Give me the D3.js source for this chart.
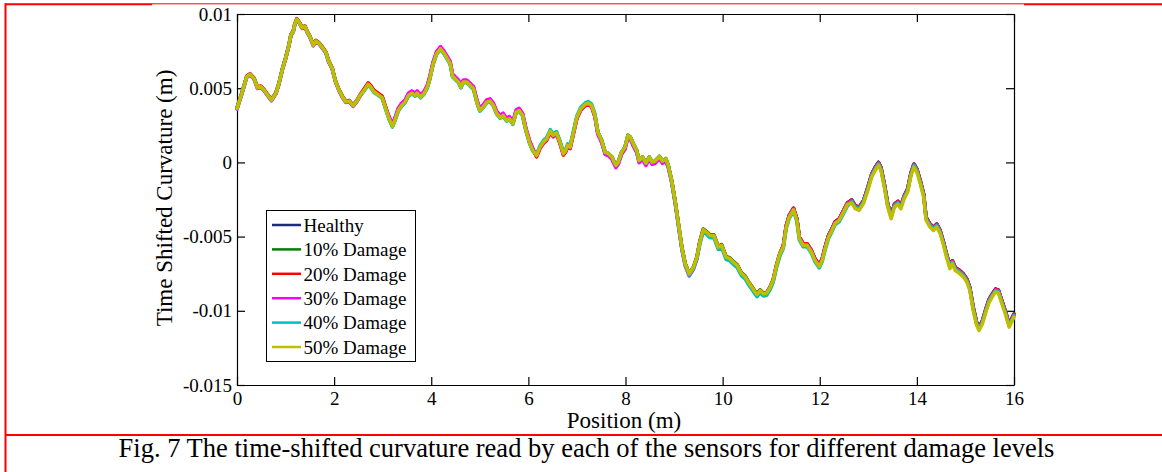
<!DOCTYPE html>
<html>
<head>
<meta charset="utf-8">
<script src="https://cdn.jsdelivr.net/npm/d3@7"></script>
<style>
  html, body { margin: 0; padding: 0; background: #fff; }
  svg { display: block; }
</style>
</head>
<body>
<svg id="chart" width="1162" height="472"></svg>
<script>
// Sensor positions along the bridge (m)
const position = [
  0.00, 0.11, 0.20, 0.27, 0.35, 0.42, 0.49, 0.56, 0.62, 0.71,
  0.80, 0.86, 0.93, 1.00, 1.07, 1.11, 1.16, 1.19, 1.23, 1.28,
  1.34, 1.40, 1.45, 1.50, 1.57, 1.62, 1.69, 1.76, 1.83, 1.89,
  1.96, 2.03, 2.10, 2.17, 2.24, 2.31, 2.39, 2.46, 2.53,
  2.62, 2.70, 2.75, 2.82, 2.90, 2.99, 3.06,
  3.13, 3.20, 3.25, 3.32, 3.39, 3.46, 3.53, 3.60, 3.67, 3.71,
  3.78, 3.85, 3.92, 3.97, 4.04, 4.11, 4.19, 4.26, 4.33, 4.39,
  4.44, 4.49, 4.56, 4.61, 4.66, 4.73, 4.80, 4.87, 4.94, 5.00,
  5.07, 5.14, 5.21, 5.28, 5.35, 5.42, 5.48, 5.55, 5.61, 5.68,
  5.75, 5.81, 5.88, 5.95, 6.02, 6.09,
  6.17, 6.24, 6.31, 6.38, 6.45, 6.51, 6.58, 6.65, 6.72, 6.77,
  6.81, 6.86, 6.93, 7.00, 7.08, 7.17, 7.23, 7.30, 7.37,
  7.43, 7.51, 7.58, 7.65, 7.72, 7.80, 7.85, 7.92, 7.99, 8.05,
  8.10, 8.16, 8.23, 8.28, 8.35, 8.42, 8.49, 8.55, 8.61, 8.70,
  8.76, 8.83, 8.88,
  8.95, 9.02, 9.09, 9.16, 9.23, 9.31, 9.40, 9.47,
  9.53, 9.60, 9.67, 9.74, 9.82, 9.91, 9.98, 10.07, 10.15, 10.22,
  10.30, 10.39, 10.46, 10.53, 10.60, 10.67, 10.71, 10.77, 10.84, 10.91,
  10.98, 11.04, 11.11, 11.18,
  11.25, 11.31, 11.37, 11.46, 11.53, 11.58, 11.66, 11.74, 11.83, 11.90,
  11.99, 12.05, 12.11, 12.18, 12.25, 12.32, 12.40, 12.49, 12.57,
  12.66, 12.73, 12.81, 12.90, 12.99, 13.07, 13.15, 13.21, 13.26, 13.33,
  13.40, 13.47, 13.54, 13.61, 13.67, 13.74, 13.81, 13.88, 13.94, 14.00,
  14.07, 14.14, 14.19, 14.27, 14.34, 14.41, 14.48, 14.55, 14.61, 14.68,
  14.73, 14.79, 14.87, 14.96, 15.03, 15.09, 15.16, 15.23, 15.28, 15.35,
  15.42, 15.49, 15.55, 15.62, 15.68, 15.75, 15.82, 15.90, 15.95, 16.00
];

// Time-shifted curvature (m) for each damage level
const healthy = [
  0.00364, 0.00476, 0.00577, 0.00593, 0.00566, 0.00503, 0.00510, 0.00487, 0.00458, 0.00420,
  0.00465, 0.00526, 0.00622, 0.00700, 0.00790, 0.00858, 0.00885, 0.00930, 0.00964, 0.00943,
  0.00908, 0.00914, 0.00876, 0.00847, 0.00790, 0.00818, 0.00802, 0.00773, 0.00741, 0.00679,
  0.00633, 0.00544, 0.00487, 0.00443, 0.00409, 0.00413, 0.00382, 0.00409, 0.00449,
  0.00492, 0.00531, 0.00515, 0.00481, 0.00463, 0.00441, 0.00369,
  0.00296, 0.00243, 0.00283, 0.00350, 0.00384, 0.00406, 0.00451, 0.00467, 0.00451, 0.00467,
  0.00440, 0.00463, 0.00507, 0.00564, 0.00665, 0.00732, 0.00766, 0.00737, 0.00699, 0.00665,
  0.00580, 0.00564, 0.00541, 0.00507, 0.00541, 0.00541, 0.00519, 0.00497, 0.00406, 0.00350,
  0.00373, 0.00406, 0.00413, 0.00384, 0.00328, 0.00301, 0.00317, 0.00283, 0.00294, 0.00261,
  0.00339, 0.00350, 0.00317, 0.00216, 0.00137, 0.00081,
  0.00047, 0.00103, 0.00137, 0.00160, 0.00211, 0.00182, 0.00198, 0.00137, 0.00059, 0.00081,
  0.00115, 0.00103, 0.00204, 0.00305, 0.00362, 0.00391, 0.00400, 0.00384, 0.00317,
  0.00204, 0.00148, 0.00069, 0.00059, 0.00036, -0.00020, 0.00002, 0.00069, 0.00103, 0.00182,
  0.00170, 0.00126, 0.00081, 0.00013, 0.00036, -0.00005, 0.00036, 0.00002, 0.00009, 0.00040,
  0.00009, 0.00025, -0.00020,
  -0.00121, -0.00256, -0.00413, -0.00571, -0.00683, -0.00750, -0.00705, -0.00638,
  -0.00537, -0.00454, -0.00470, -0.00492, -0.00492, -0.00571, -0.00559, -0.00638, -0.00649, -0.00672,
  -0.00694, -0.00750, -0.00768, -0.00807, -0.00840, -0.00874, -0.00890, -0.00863, -0.00885, -0.00880,
  -0.00840, -0.00795, -0.00694, -0.00615,
  -0.00561, -0.00426, -0.00359, -0.00309, -0.00381, -0.00504, -0.00549, -0.00549, -0.00594, -0.00650,
  -0.00691, -0.00650, -0.00572, -0.00493, -0.00448, -0.00399, -0.00381, -0.00325, -0.00273,
  -0.00254, -0.00292, -0.00303, -0.00258, -0.00169, -0.00079, -0.00029, 0.00000, -0.00034, -0.00146,
  -0.00281, -0.00360, -0.00281, -0.00263, -0.00292, -0.00225, -0.00180, -0.00068, -0.00012, -0.00045,
  -0.00124, -0.00214, -0.00371, -0.00416, -0.00438, -0.00416, -0.00460, -0.00539, -0.00618, -0.00696,
  -0.00663, -0.00708, -0.00726, -0.00753, -0.00787, -0.00843, -0.00977, -0.01078, -0.01112, -0.01067,
  -0.00989, -0.00921, -0.00888, -0.00854, -0.00861, -0.00932, -0.01000, -0.01090, -0.01056, -0.01022
];

const damage10 = [
  0.00364, 0.00476, 0.00577, 0.00593, 0.00566, 0.00503, 0.00510, 0.00487, 0.00458, 0.00420,
  0.00465, 0.00526, 0.00622, 0.00700, 0.00790, 0.00858, 0.00885, 0.00930, 0.00964, 0.00943,
  0.00908, 0.00914, 0.00876, 0.00847, 0.00790, 0.00818, 0.00802, 0.00773, 0.00741, 0.00679,
  0.00633, 0.00544, 0.00487, 0.00443, 0.00409, 0.00413, 0.00382, 0.00409, 0.00449,
  0.00492, 0.00531, 0.00515, 0.00481, 0.00463, 0.00441, 0.00369,
  0.00301, 0.00248, 0.00288, 0.00355, 0.00389, 0.00411, 0.00456, 0.00472, 0.00456, 0.00472,
  0.00445, 0.00468, 0.00512, 0.00569, 0.00670, 0.00737, 0.00771, 0.00742, 0.00704, 0.00670,
  0.00585, 0.00569, 0.00546, 0.00512, 0.00546, 0.00546, 0.00524, 0.00502, 0.00411, 0.00355,
  0.00378, 0.00411, 0.00418, 0.00389, 0.00333, 0.00306, 0.00322, 0.00288, 0.00299, 0.00266,
  0.00344, 0.00355, 0.00322, 0.00221, 0.00142, 0.00086,
  0.00047, 0.00103, 0.00137, 0.00160, 0.00211, 0.00182, 0.00198, 0.00137, 0.00059, 0.00081,
  0.00115, 0.00103, 0.00204, 0.00305, 0.00362, 0.00391, 0.00400, 0.00384, 0.00317,
  0.00204, 0.00148, 0.00069, 0.00059, 0.00036, -0.00020, 0.00002, 0.00069, 0.00103, 0.00182,
  0.00170, 0.00126, 0.00081, 0.00013, 0.00036, -0.00005, 0.00036, 0.00002, 0.00009, 0.00040,
  0.00009, 0.00025, -0.00020,
  -0.00121, -0.00256, -0.00413, -0.00571, -0.00683, -0.00750, -0.00705, -0.00638,
  -0.00532, -0.00449, -0.00465, -0.00487, -0.00487, -0.00566, -0.00554, -0.00633, -0.00644, -0.00667,
  -0.00689, -0.00745, -0.00763, -0.00802, -0.00835, -0.00869, -0.00885, -0.00858, -0.00880, -0.00875,
  -0.00835, -0.00790, -0.00689, -0.00610,
  -0.00561, -0.00426, -0.00359, -0.00309, -0.00381, -0.00504, -0.00549, -0.00549, -0.00594, -0.00650,
  -0.00691, -0.00650, -0.00572, -0.00493, -0.00448, -0.00399, -0.00381, -0.00325, -0.00273,
  -0.00254, -0.00292, -0.00303, -0.00258, -0.00169, -0.00079, -0.00029, 0.00000, -0.00034, -0.00146,
  -0.00281, -0.00360, -0.00281, -0.00263, -0.00292, -0.00225, -0.00180, -0.00068, -0.00012, -0.00045,
  -0.00124, -0.00214, -0.00371, -0.00416, -0.00438, -0.00416, -0.00460, -0.00539, -0.00618, -0.00696,
  -0.00663, -0.00708, -0.00726, -0.00753, -0.00787, -0.00843, -0.00977, -0.01078, -0.01112, -0.01067,
  -0.00989, -0.00921, -0.00888, -0.00854, -0.00861, -0.00932, -0.01000, -0.01090, -0.01056, -0.01022
];

const damage20 = [
  0.00369, 0.00481, 0.00582, 0.00598, 0.00571, 0.00508, 0.00515, 0.00492, 0.00463, 0.00425,
  0.00470, 0.00531, 0.00627, 0.00705, 0.00795, 0.00863, 0.00890, 0.00935, 0.00969, 0.00948,
  0.00913, 0.00919, 0.00881, 0.00852, 0.00795, 0.00823, 0.00807, 0.00778, 0.00746, 0.00684,
  0.00638, 0.00549, 0.00492, 0.00448, 0.00414, 0.00418, 0.00387, 0.00414, 0.00454,
  0.00497, 0.00536, 0.00520, 0.00486, 0.00468, 0.00446, 0.00374,
  0.00306, 0.00253, 0.00293, 0.00360, 0.00394, 0.00416, 0.00461, 0.00477, 0.00461, 0.00477,
  0.00450, 0.00473, 0.00517, 0.00574, 0.00675, 0.00742, 0.00776, 0.00747, 0.00709, 0.00675,
  0.00590, 0.00574, 0.00551, 0.00517, 0.00551, 0.00551, 0.00529, 0.00507, 0.00416, 0.00360,
  0.00383, 0.00416, 0.00423, 0.00394, 0.00338, 0.00311, 0.00327, 0.00293, 0.00304, 0.00271,
  0.00349, 0.00360, 0.00327, 0.00226, 0.00147, 0.00091,
  0.00037, 0.00093, 0.00127, 0.00150, 0.00201, 0.00172, 0.00188, 0.00127, 0.00049, 0.00071,
  0.00105, 0.00093, 0.00194, 0.00295, 0.00352, 0.00381, 0.00390, 0.00374, 0.00307,
  0.00194, 0.00138, 0.00059, 0.00049, 0.00026, -0.00030, -0.00008, 0.00059, 0.00093, 0.00172,
  0.00160, 0.00116, 0.00071, 0.00003, 0.00026, -0.00015, 0.00026, -0.00008, -0.00001, 0.00030,
  -0.00001, 0.00015, -0.00030,
  -0.00126, -0.00261, -0.00418, -0.00576, -0.00688, -0.00755, -0.00710, -0.00643,
  -0.00537, -0.00454, -0.00470, -0.00492, -0.00492, -0.00571, -0.00559, -0.00638, -0.00649, -0.00672,
  -0.00694, -0.00750, -0.00768, -0.00807, -0.00840, -0.00874, -0.00890, -0.00863, -0.00885, -0.00880,
  -0.00840, -0.00795, -0.00694, -0.00615,
  -0.00561, -0.00426, -0.00359, -0.00309, -0.00381, -0.00504, -0.00549, -0.00549, -0.00594, -0.00650,
  -0.00691, -0.00650, -0.00572, -0.00493, -0.00448, -0.00399, -0.00381, -0.00325, -0.00273,
  -0.00254, -0.00292, -0.00303, -0.00258, -0.00169, -0.00079, -0.00029, 0.00000, -0.00034, -0.00146,
  -0.00281, -0.00360, -0.00281, -0.00263, -0.00292, -0.00225, -0.00180, -0.00068, -0.00012, -0.00045,
  -0.00124, -0.00214, -0.00371, -0.00416, -0.00438, -0.00416, -0.00460, -0.00539, -0.00618, -0.00696,
  -0.00663, -0.00708, -0.00726, -0.00753, -0.00787, -0.00843, -0.00977, -0.01078, -0.01112, -0.01067,
  -0.00989, -0.00921, -0.00888, -0.00854, -0.00861, -0.00932, -0.01000, -0.01090, -0.01056, -0.01022
];

const damage30 = [
  0.00359, 0.00471, 0.00572, 0.00588, 0.00561, 0.00498, 0.00505, 0.00482, 0.00453, 0.00415,
  0.00460, 0.00521, 0.00617, 0.00695, 0.00785, 0.00853, 0.00880, 0.00925, 0.00959, 0.00938,
  0.00903, 0.00909, 0.00871, 0.00842, 0.00785, 0.00813, 0.00797, 0.00768, 0.00736, 0.00674,
  0.00628, 0.00539, 0.00482, 0.00438, 0.00404, 0.00408, 0.00377, 0.00404, 0.00444,
  0.00487, 0.00526, 0.00510, 0.00476, 0.00458, 0.00436, 0.00364,
  0.00311, 0.00258, 0.00298, 0.00365, 0.00399, 0.00421, 0.00466, 0.00482, 0.00466, 0.00482,
  0.00455, 0.00478, 0.00522, 0.00579, 0.00680, 0.00747, 0.00781, 0.00752, 0.00714, 0.00680,
  0.00595, 0.00579, 0.00556, 0.00522, 0.00556, 0.00556, 0.00534, 0.00512, 0.00421, 0.00365,
  0.00388, 0.00421, 0.00428, 0.00399, 0.00343, 0.00316, 0.00332, 0.00298, 0.00309, 0.00276,
  0.00354, 0.00365, 0.00332, 0.00231, 0.00152, 0.00096,
  0.00042, 0.00098, 0.00132, 0.00155, 0.00206, 0.00177, 0.00193, 0.00132, 0.00054, 0.00076,
  0.00110, 0.00098, 0.00199, 0.00300, 0.00357, 0.00386, 0.00395, 0.00379, 0.00312,
  0.00189, 0.00133, 0.00054, 0.00044, 0.00021, -0.00035, -0.00013, 0.00054, 0.00088, 0.00167,
  0.00155, 0.00111, 0.00066, -0.00002, 0.00021, -0.00020, 0.00021, -0.00013, -0.00006, 0.00025,
  -0.00006, 0.00010, -0.00035,
  -0.00136, -0.00271, -0.00428, -0.00586, -0.00698, -0.00765, -0.00720, -0.00653,
  -0.00542, -0.00459, -0.00475, -0.00497, -0.00497, -0.00576, -0.00564, -0.00643, -0.00654, -0.00677,
  -0.00699, -0.00755, -0.00773, -0.00812, -0.00845, -0.00879, -0.00895, -0.00868, -0.00890, -0.00885,
  -0.00845, -0.00800, -0.00699, -0.00620,
  -0.00566, -0.00431, -0.00364, -0.00314, -0.00386, -0.00509, -0.00554, -0.00554, -0.00599, -0.00655,
  -0.00696, -0.00655, -0.00577, -0.00498, -0.00453, -0.00404, -0.00386, -0.00330, -0.00278,
  -0.00259, -0.00297, -0.00308, -0.00263, -0.00174, -0.00084, -0.00034, -0.00005, -0.00039, -0.00151,
  -0.00286, -0.00365, -0.00286, -0.00268, -0.00297, -0.00230, -0.00185, -0.00073, -0.00017, -0.00050,
  -0.00129, -0.00219, -0.00376, -0.00421, -0.00443, -0.00421, -0.00465, -0.00544, -0.00623, -0.00701,
  -0.00668, -0.00713, -0.00731, -0.00758, -0.00792, -0.00848, -0.00982, -0.01083, -0.01117, -0.01072,
  -0.00994, -0.00926, -0.00893, -0.00859, -0.00866, -0.00937, -0.01005, -0.01095, -0.01061, -0.01027
];

const damage40 = [
  0.00364, 0.00476, 0.00577, 0.00593, 0.00566, 0.00503, 0.00510, 0.00487, 0.00458, 0.00420,
  0.00465, 0.00526, 0.00622, 0.00700, 0.00790, 0.00858, 0.00885, 0.00930, 0.00964, 0.00943,
  0.00908, 0.00914, 0.00876, 0.00847, 0.00790, 0.00818, 0.00802, 0.00773, 0.00741, 0.00679,
  0.00633, 0.00544, 0.00487, 0.00443, 0.00409, 0.00413, 0.00382, 0.00409, 0.00449,
  0.00482, 0.00521, 0.00505, 0.00471, 0.00453, 0.00431, 0.00359,
  0.00291, 0.00238, 0.00278, 0.00345, 0.00379, 0.00401, 0.00446, 0.00462, 0.00446, 0.00462,
  0.00435, 0.00458, 0.00502, 0.00559, 0.00660, 0.00727, 0.00761, 0.00732, 0.00694, 0.00660,
  0.00575, 0.00559, 0.00536, 0.00502, 0.00536, 0.00536, 0.00514, 0.00492, 0.00401, 0.00345,
  0.00368, 0.00401, 0.00408, 0.00379, 0.00323, 0.00296, 0.00312, 0.00278, 0.00289, 0.00256,
  0.00334, 0.00345, 0.00312, 0.00211, 0.00132, 0.00076,
  0.00057, 0.00113, 0.00147, 0.00170, 0.00221, 0.00192, 0.00208, 0.00147, 0.00069, 0.00091,
  0.00125, 0.00113, 0.00214, 0.00315, 0.00372, 0.00401, 0.00410, 0.00394, 0.00327,
  0.00204, 0.00148, 0.00069, 0.00059, 0.00036, -0.00020, 0.00002, 0.00069, 0.00103, 0.00182,
  0.00170, 0.00126, 0.00081, 0.00013, 0.00036, -0.00005, 0.00036, 0.00002, 0.00009, 0.00040,
  0.00009, 0.00025, -0.00020,
  -0.00131, -0.00266, -0.00423, -0.00581, -0.00693, -0.00760, -0.00715, -0.00648,
  -0.00552, -0.00469, -0.00485, -0.00507, -0.00507, -0.00586, -0.00574, -0.00653, -0.00664, -0.00687,
  -0.00709, -0.00765, -0.00783, -0.00822, -0.00855, -0.00889, -0.00905, -0.00878, -0.00900, -0.00895,
  -0.00855, -0.00810, -0.00709, -0.00630,
  -0.00581, -0.00446, -0.00379, -0.00329, -0.00401, -0.00524, -0.00569, -0.00569, -0.00614, -0.00670,
  -0.00711, -0.00670, -0.00592, -0.00513, -0.00468, -0.00419, -0.00401, -0.00345, -0.00293,
  -0.00264, -0.00302, -0.00313, -0.00268, -0.00179, -0.00089, -0.00039, -0.00010, -0.00044, -0.00156,
  -0.00291, -0.00370, -0.00291, -0.00273, -0.00302, -0.00235, -0.00190, -0.00078, -0.00022, -0.00055,
  -0.00134, -0.00224, -0.00381, -0.00426, -0.00448, -0.00426, -0.00470, -0.00549, -0.00628, -0.00706,
  -0.00673, -0.00718, -0.00736, -0.00763, -0.00797, -0.00853, -0.00987, -0.01088, -0.01122, -0.01077,
  -0.00999, -0.00931, -0.00898, -0.00864, -0.00871, -0.00942, -0.01010, -0.01100, -0.01066, -0.01032
];

const damage50 = [
  0.00364, 0.00476, 0.00577, 0.00593, 0.00566, 0.00503, 0.00510, 0.00487, 0.00458, 0.00420,
  0.00465, 0.00526, 0.00622, 0.00700, 0.00790, 0.00858, 0.00885, 0.00930, 0.00964, 0.00943,
  0.00908, 0.00914, 0.00876, 0.00847, 0.00790, 0.00818, 0.00802, 0.00773, 0.00741, 0.00679,
  0.00633, 0.00544, 0.00487, 0.00443, 0.00409, 0.00413, 0.00382, 0.00409, 0.00449,
  0.00487, 0.00526, 0.00510, 0.00476, 0.00458, 0.00436, 0.00364,
  0.00296, 0.00243, 0.00283, 0.00350, 0.00384, 0.00406, 0.00451, 0.00467, 0.00451, 0.00467,
  0.00440, 0.00463, 0.00507, 0.00564, 0.00665, 0.00732, 0.00766, 0.00737, 0.00699, 0.00665,
  0.00580, 0.00564, 0.00541, 0.00507, 0.00541, 0.00541, 0.00519, 0.00497, 0.00406, 0.00350,
  0.00373, 0.00406, 0.00413, 0.00384, 0.00328, 0.00301, 0.00317, 0.00283, 0.00294, 0.00261,
  0.00339, 0.00350, 0.00317, 0.00216, 0.00137, 0.00081,
  0.00047, 0.00103, 0.00137, 0.00160, 0.00211, 0.00182, 0.00198, 0.00137, 0.00059, 0.00081,
  0.00115, 0.00103, 0.00204, 0.00305, 0.00362, 0.00391, 0.00400, 0.00384, 0.00317,
  0.00204, 0.00148, 0.00069, 0.00059, 0.00036, -0.00020, 0.00002, 0.00069, 0.00103, 0.00182,
  0.00170, 0.00126, 0.00081, 0.00013, 0.00036, -0.00005, 0.00036, 0.00002, 0.00009, 0.00040,
  0.00009, 0.00025, -0.00020,
  -0.00121, -0.00256, -0.00413, -0.00571, -0.00683, -0.00750, -0.00705, -0.00638,
  -0.00537, -0.00454, -0.00470, -0.00492, -0.00492, -0.00571, -0.00559, -0.00638, -0.00649, -0.00672,
  -0.00694, -0.00750, -0.00768, -0.00807, -0.00840, -0.00874, -0.00890, -0.00863, -0.00885, -0.00880,
  -0.00840, -0.00795, -0.00694, -0.00615,
  -0.00571, -0.00436, -0.00369, -0.00319, -0.00391, -0.00514, -0.00559, -0.00559, -0.00604, -0.00660,
  -0.00701, -0.00660, -0.00582, -0.00503, -0.00458, -0.00409, -0.00391, -0.00335, -0.00283,
  -0.00274, -0.00312, -0.00323, -0.00278, -0.00189, -0.00099, -0.00049, -0.00020, -0.00054, -0.00166,
  -0.00301, -0.00380, -0.00301, -0.00283, -0.00312, -0.00245, -0.00200, -0.00088, -0.00032, -0.00065,
  -0.00144, -0.00234, -0.00391, -0.00436, -0.00458, -0.00436, -0.00480, -0.00559, -0.00638, -0.00716,
  -0.00683, -0.00728, -0.00746, -0.00773, -0.00807, -0.00863, -0.00997, -0.01098, -0.01132, -0.01087,
  -0.01009, -0.00941, -0.00908, -0.00874, -0.00881, -0.00952, -0.01020, -0.01110, -0.01076, -0.01042
];

const seriesNames = ["Healthy", "10% Damage", "20% Damage", "30% Damage", "40% Damage", "50% Damage"];
const seriesValues = [healthy, damage10, damage20, damage30, damage40, damage50];
const seriesColors = ["#1c2a80", "#007f00", "#ff0000", "#ff00ff", "#00bfbf", "#bfbf00"];

const xTicks = [0, 2, 4, 6, 8, 10, 12, 14, 16];
const yTicks = [0.01, 0.005, 0, -0.005, -0.01, -0.015];
const yTickLabels = ["0.01", "0.005", "0", "-0.005", "-0.01", "-0.015"];

const xTitle = "Position (m)";
const yTitle = "Time Shifted Curvature (m)";
const captionText = "Fig. 7 The time-shifted curvature read by each of the sensors for different damage levels";

// ---- layout ----
const W = 1162, H = 472;
const plot = { left: 237, right: 1014, top: 14, bottom: 385 };
const SERIF = "'Liberation Serif', 'Times New Roman', serif";

const svg = d3.select("#chart");
svg.append("rect").attr("width", W).attr("height", H).attr("fill", "#fff");

const x = d3.scaleLinear().domain([0, 16]).range([plot.left, plot.right]);
const y = d3.scaleLinear().domain([-0.015, 0.01]).range([plot.bottom, plot.top]);

// Page frame lines around the figure
const frame = svg.append("g").attr("stroke", "#ff0000").attr("fill", "none");
frame.append("line").attr("x1", 5).attr("x2", 152).attr("y1", 4.3).attr("y2", 4.3).attr("stroke-width", 2);
frame.append("line").attr("x1", 152).attr("x2", 1024).attr("y1", 3.8).attr("y2", 3.8).attr("stroke-width", 1);
frame.append("line").attr("x1", 1024).attr("x2", W).attr("y1", 4.3).attr("y2", 4.3).attr("stroke-width", 2);
frame.append("line").attr("x1", 5.5).attr("x2", 5.5).attr("y1", 3.3).attr("y2", H).attr("stroke-width", 2);
frame.append("line").attr("x1", 5).attr("x2", W).attr("y1", 435).attr("y2", 435).attr("stroke-width", 2);

// ---- axes (ticks point inward on all four sides) ----
function styleAxis(g) {
  g.attr("font-family", null).attr("font-size", null);
  g.selectAll(".domain").attr("stroke", "#000").attr("stroke-width", 1.2);
  g.selectAll(".tick line").attr("stroke", "#000").attr("stroke-width", 1.2);
  g.selectAll(".tick text")
    .style("font-family", SERIF)
    .style("font-size", "19px")
    .attr("fill", "#000");
}

svg.append("g")
  .attr("transform", `translate(0,${plot.bottom})`)
  .call(d3.axisBottom(x).tickValues(xTicks).tickFormat(d3.format("d"))
    .tickSize(-8).tickSizeOuter(0).tickPadding(7))
  .call(styleAxis);

svg.append("g")
  .attr("transform", `translate(0,${plot.top})`)
  .call(d3.axisTop(x).tickValues(xTicks).tickFormat(() => "")
    .tickSize(-8).tickSizeOuter(0))
  .call(styleAxis);

svg.append("g")
  .attr("transform", `translate(${plot.left},0)`)
  .call(d3.axisLeft(y).tickValues(yTicks).tickFormat((d, i) => yTickLabels[i])
    .tickSize(-8).tickSizeOuter(0).tickPadding(5))
  .call(styleAxis);

svg.append("g")
  .attr("transform", `translate(${plot.right},0)`)
  .call(d3.axisRight(y).tickValues(yTicks).tickFormat(() => "")
    .tickSize(-8).tickSizeOuter(0))
  .call(styleAxis);

// ---- curves ----
const line = d3.line()
  .x((d, i) => x(position[i]))
  .y(d => y(d));

svg.append("g")
  .selectAll("path")
  .data(seriesValues)
  .join("path")
  .attr("d", d => line(d))
  .attr("fill", "none")
  .attr("stroke", (d, i) => seriesColors[i])
  .attr("stroke-width", 3.5)
  .attr("stroke-linejoin", "round")
  .attr("stroke-linecap", "round");

// ---- legend ----
const legend = svg.append("g");
legend.append("rect")
  .attr("x", 266.5).attr("y", 210.5).attr("width", 149).attr("height", 151)
  .attr("fill", "#fff").attr("stroke", "#000").attr("stroke-width", 1);

const rowY = d3.scaleLinear().domain([0, 5]).range([225, 347]);
const rows = legend.selectAll("g.row")
  .data(seriesNames)
  .join("g")
  .attr("class", "row")
  .attr("transform", (d, i) => `translate(0,${rowY(i)})`);
rows.append("line")
  .attr("x1", 272).attr("x2", 301).attr("y1", 0).attr("y2", 0)
  .attr("stroke", (d, i) => seriesColors[i]).attr("stroke-width", 2.5);
rows.append("text")
  .attr("x", 303.5).attr("y", 6.7)
  .style("font-family", SERIF)
  .style("font-size", "19px")
  .attr("fill", "#000")
  .text(d => d);

// ---- titles ----
svg.append("text")
  .attr("x", 624).attr("y", 428)
  .attr("text-anchor", "middle")
  .style("font-family", SERIF)
  .style("font-size", "23px")
  .text(xTitle);

svg.append("text")
  .attr("transform", "translate(172,198) rotate(-90)")
  .attr("text-anchor", "middle")
  .style("font-family", SERIF)
  .style("font-size", "23px")
  .text(yTitle);

svg.append("text")
  .attr("x", 586.5).attr("y", 457)
  .attr("text-anchor", "middle")
  .style("font-family", SERIF)
  .style("font-size", "26.5px")
  .text(captionText);
</script>
</body>
</html>
